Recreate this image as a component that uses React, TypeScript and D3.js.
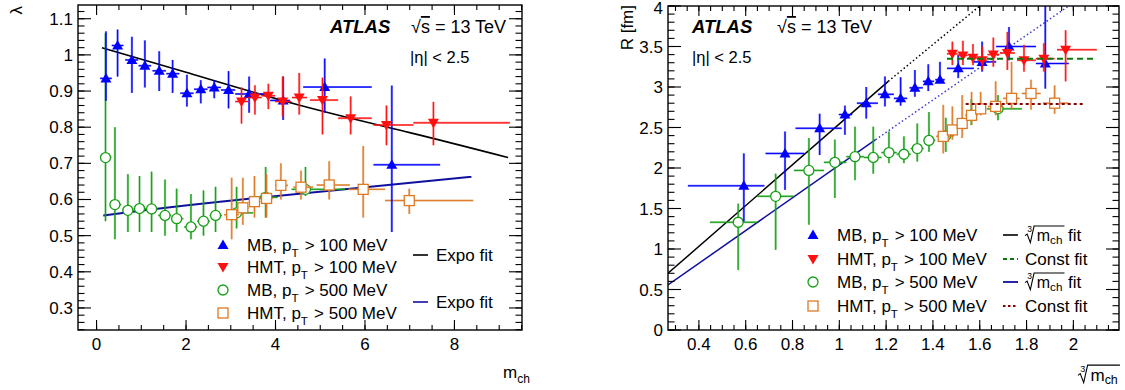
import React from 'react';
import * as d3 from 'd3';

// [x, y, xLow, xHigh, yLow, yHigh]
type Pt = [number, number, number, number, number, number];

// ---- left panel: lambda vs m_ch ----
const mb100Left: Pt[] = [
  [0.21, 0.935, 0.08, 0.34, 0.873, 1.065],
  [0.47, 1.026, 0.34, 0.6, 0.94, 1.07],
  [0.79, 0.986, 0.64, 0.93, 0.895, 1.05],
  [1.08, 0.97, 0.94, 1.22, 0.91, 1.04],
  [1.4, 0.956, 1.25, 1.55, 0.9, 1.01],
  [1.7, 0.948, 1.56, 1.85, 0.895, 0.986],
  [2.02, 0.894, 1.87, 2.17, 0.857, 0.945],
  [2.33, 0.905, 2.18, 2.48, 0.866, 0.93],
  [2.63, 0.91, 2.48, 2.78, 0.88, 0.93],
  [2.95, 0.903, 2.78, 3.1, 0.852, 0.955],
  [3.41, 0.892, 3.1, 3.88, 0.84, 0.94],
  [4.17, 0.874, 3.88, 4.32, 0.82, 0.94],
  [5.1, 0.911, 4.62, 6.15, 0.84, 0.99],
  [6.6, 0.696, 6.19, 7.68, 0.51, 0.915],
];
const hmt100Left: Pt[] = [
  [3.24, 0.871, 3.1, 3.39, 0.81, 0.91],
  [3.54, 0.882, 3.39, 3.69, 0.835, 0.916],
  [3.84, 0.887, 3.69, 3.99, 0.85, 0.92],
  [4.16, 0.871, 3.99, 4.35, 0.83, 0.94],
  [4.53, 0.882, 4.37, 4.7, 0.835, 0.95],
  [5.05, 0.875, 4.77, 5.4, 0.78, 0.937],
  [5.68, 0.825, 5.4, 6.15, 0.78, 0.885],
  [6.48, 0.806, 6.19, 7.08, 0.75, 0.86],
  [7.53, 0.812, 7.08, 9.24, 0.75, 0.87],
];
const mb500Left: Pt[] = [
  [0.2, 0.716, 0.08, 0.33, 0.54, 1.06],
  [0.41, 0.586, 0.3, 0.55, 0.49, 0.8],
  [0.7, 0.57, 0.57, 0.83, 0.51, 0.67],
  [0.96, 0.575, 0.83, 1.1, 0.51, 0.665],
  [1.23, 0.574, 1.1, 1.37, 0.51, 0.677],
  [1.53, 0.556, 1.38, 1.67, 0.5, 0.655],
  [1.79, 0.547, 1.67, 1.94, 0.51, 0.63],
  [2.11, 0.524, 1.96, 2.25, 0.49, 0.615],
  [2.39, 0.54, 2.25, 2.53, 0.5, 0.625],
  [2.66, 0.556, 2.53, 2.8, 0.51, 0.635],
  [3.13, 0.563, 2.9, 3.5, 0.52, 0.635],
  [3.78, 0.606, 3.5, 4.05, 0.55, 0.69],
  [4.67, 0.628, 4.36, 5.55, 0.61, 0.69],
];
const hmt500Left: Pt[] = [
  [3.02, 0.558, 2.85, 3.18, 0.49, 0.66],
  [3.27, 0.577, 3.18, 3.4, 0.53, 0.66],
  [3.53, 0.594, 3.4, 3.66, 0.55, 0.665],
  [3.8, 0.603, 3.66, 3.94, 0.55, 0.67],
  [4.12, 0.639, 3.99, 4.28, 0.6, 0.7],
  [4.57, 0.634, 4.4, 4.84, 0.6, 0.68],
  [5.2, 0.64, 4.92, 5.66, 0.6, 0.706],
  [5.96, 0.628, 5.63, 6.45, 0.55, 0.748],
  [6.99, 0.597, 6.45, 8.42, 0.56, 0.63],
];
const expoFit100: [number, number][] = [[0.12, 1.02], [2, 0.952], [4.5, 0.862], [7, 0.785], [9.2, 0.716]];
const expoFit500: [number, number][] = [[0.15, 0.556], [2.76, 0.594], [8.38, 0.663]];

// ---- right panel: R vs cbrt(m_ch) ----
const mb100Right: Pt[] = [
  [0.592, 1.78, 0.353, 0.68, 1.34, 2.18],
  [0.768, 2.18, 0.685, 0.85, 1.73, 2.45],
  [0.916, 2.49, 0.813, 1.01, 2.16, 2.67],
  [1.024, 2.66, 0.998, 1.055, 2.41, 2.77],
  [1.115, 2.8, 1.075, 1.165, 2.61, 3.0],
  [1.195, 2.91, 1.165, 1.233, 2.76, 3.13],
  [1.262, 2.86, 1.233, 1.29, 2.77, 3.12],
  [1.323, 2.99, 1.3, 1.357, 2.88, 3.21],
  [1.38, 3.07, 1.357, 1.405, 2.95, 3.28],
  [1.43, 3.09, 1.41, 1.45, 3.05, 3.31],
  [1.508, 3.23, 1.46, 1.575, 3.11, 3.4],
  [1.61, 3.31, 1.57, 1.67, 3.19, 3.56],
  [1.725, 3.5, 1.67, 1.84, 3.33, 3.74],
  [1.88, 3.29, 1.84, 1.98, 2.98, 4.1],
];
const hmt100Right: Pt[] = [
  [1.483, 3.41, 1.46, 1.505, 3.27, 3.56],
  [1.528, 3.39, 1.508, 1.548, 3.27, 3.57],
  [1.571, 3.36, 1.551, 1.591, 3.27, 3.53],
  [1.611, 3.33, 1.591, 1.631, 3.21, 3.5],
  [1.658, 3.4, 1.633, 1.683, 3.25, 3.61],
  [1.718, 3.42, 1.686, 1.75, 3.21, 3.68],
  [1.789, 3.33, 1.76, 1.84, 3.19, 3.52],
  [1.874, 3.35, 1.84, 1.92, 3.19, 3.54],
  [1.967, 3.46, 1.93, 2.1, 3.07, 3.7],
];
const mb500Right: Pt[] = [
  [0.568, 1.33, 0.447, 0.649, 0.74, 1.56],
  [0.728, 1.65, 0.649, 0.806, 0.99, 1.93],
  [0.87, 1.97, 0.806, 0.934, 1.3, 2.37],
  [0.981, 2.07, 0.934, 1.03, 1.63, 2.35],
  [1.067, 2.14, 1.03, 1.105, 1.85, 2.51],
  [1.145, 2.13, 1.105, 1.18, 1.93, 2.51],
  [1.212, 2.19, 1.18, 1.245, 2.06, 2.45],
  [1.276, 2.17, 1.245, 1.305, 2.06, 2.39],
  [1.333, 2.24, 1.305, 1.36, 2.08, 2.55],
  [1.383, 2.34, 1.36, 1.41, 2.2, 2.69],
  [1.455, 2.4, 1.42, 1.49, 2.2, 2.62],
  [1.564, 2.65, 1.54, 1.59, 2.53, 2.85],
  [1.678, 2.73, 1.63, 1.78, 2.59, 2.9],
];
const hmt500Right: Pt[] = [
  [1.444, 2.39, 1.414, 1.476, 2.18, 2.78],
  [1.483, 2.47, 1.463, 1.503, 2.35, 2.76],
  [1.525, 2.55, 1.505, 1.545, 2.37, 2.9],
  [1.565, 2.65, 1.545, 1.585, 2.53, 2.94],
  [1.604, 2.73, 1.584, 1.624, 2.65, 2.94],
  [1.668, 2.76, 1.635, 1.7, 2.65, 3.07],
  [1.736, 2.86, 1.7, 1.77, 2.72, 3.31],
  [1.819, 2.92, 1.78, 1.86, 2.72, 3.09],
  [1.92, 2.8, 1.87, 1.98, 2.67, 3.02],
];
const cbrtFit100: [number, number][] = [[0.268, 0.7], [1.209, 3.07]];
const cbrtFit100Ext: [number, number][] = [[1.209, 3.07], [1.6, 4.0]];
const cbrtFit500: [number, number][] = [[0.268, 0.556], [1.155, 2.35]];
const cbrtFit500Ext: [number, number][] = [[1.155, 2.35], [1.98, 4.0]];
const constFit100: [number, number][] = [[1.46, 3.35], [2.1, 3.35]];
const constFit500: [number, number][] = [[1.54, 2.79], [2.04, 2.79]];

const legendCuts = ['100', '100', '500', '500'];
const legendNames = ['MB', 'HMT', 'MB', 'HMT'];

const FONT = '"Liberation Sans", Arial, Helvetica, sans-serif';
const BLUE = '#0000ff';
const RED = '#ff1010';
const GREEN = '#17a017';
const ORANGE = '#dd7a26';
const NAVY = '#10109e';

const xL = d3.scaleLinear().domain([-0.415, 9.51]).range([78, 522]);
const yL = d3.scaleLinear().domain([0.239, 1.138]).range([330, 5]);
const xR = d3.scaleLinear().domain([0.268, 2.195]).range([668, 1119]);
const yR = d3.scaleLinear().domain([0, 4]).range([330, 6]);

function steps(from: number, to: number, step: number) {
  const a = Math.ceil(from / step - 1e-9);
  const b = Math.floor(to / step + 1e-9);
  return d3.range(a, b + 1).map(i => +(i * step).toFixed(6));
}

function Frame({ x, y, xMaj, xMin, yMaj, yMin, yTick }: any) {
  const [x0, x1] = x.range();
  const [y0, y1] = y.range();
  const xt = 10, yt = yTick;
  return (
    <g stroke="#000" strokeWidth={1.1}>
      {xMin.map((v: number) => (
        <g key={'xm' + v}>
          <line x1={x(v)} x2={x(v)} y1={y0} y2={y0 - xt / 2} />
          <line x1={x(v)} x2={x(v)} y1={y1} y2={y1 + xt / 2} />
        </g>
      ))}
      {xMaj.map((v: number) => (
        <g key={'xM' + v}>
          <line x1={x(v)} x2={x(v)} y1={y0} y2={y0 - xt} />
          <line x1={x(v)} x2={x(v)} y1={y1} y2={y1 + xt} />
          <text x={x(v)} y={y0 + 20} textAnchor="middle" stroke="none" fontSize={17}>{v}</text>
        </g>
      ))}
      {yMin.map((v: number) => (
        <g key={'ym' + v}>
          <line x1={x0} x2={x0 + yt / 2} y1={y(v)} y2={y(v)} />
          <line x1={x1} x2={x1 - yt / 2} y1={y(v)} y2={y(v)} />
        </g>
      ))}
      {yMaj.map((v: number) => (
        <g key={'yM' + v}>
          <line x1={x0} x2={x0 + yt} y1={y(v)} y2={y(v)} />
          <line x1={x1} x2={x1 - yt} y1={y(v)} y2={y(v)} />
          <text x={x0 - 5} y={Math.max(y(v) + 6, 13.5)} textAnchor="end" stroke="none" fontSize={17}>{v}</text>
        </g>
      ))}
      <rect x={x0} y={y1} width={x1 - x0} height={y0 - y1} fill="none" strokeWidth={1.4} />
    </g>
  );
}

function Marker({ kind, color, cx, cy }: any) {
  if (kind === 'up') return <path d={`M${cx},${cy - 5.5}L${cx + 5.5},${cy + 4}L${cx - 5.5},${cy + 4}Z`} fill={color} />;
  if (kind === 'down') return <path d={`M${cx},${cy + 5.5}L${cx + 5.5},${cy - 4}L${cx - 5.5},${cy - 4}Z`} fill={color} />;
  if (kind === 'circle') return <circle cx={cx} cy={cy} r={5} fill="#fff" stroke={color} strokeWidth={1.3} />;
  return <rect x={cx - 5} y={cy - 5} width={10} height={10} fill="#fff" stroke={color} strokeWidth={1.3} />;
}

function Series({ data, x, y, color, kind }: any) {
  return (
    <g>
      {data.map((d: Pt, i: number) => (
        <g key={i} stroke={color}>
          <line x1={x(d[2])} x2={x(d[3])} y1={y(d[1])} y2={y(d[1])} strokeWidth={2} strokeOpacity={0.55} />
          <line x1={x(d[0])} x2={x(d[0])} y1={y(d[4])} y2={y(d[5])} strokeWidth={2.2} strokeOpacity={0.55} />
          <line x1={x(d[0])} x2={x(d[0])} y1={y(d[4])} y2={y(d[5])} strokeWidth={1} />
          <line x1={x(d[2])} x2={x(d[3])} y1={y(d[1])} y2={y(d[1])} strokeWidth={1} />
        </g>
      ))}
      {data.map((d: Pt, i: number) => (
        <Marker key={'m' + i} kind={kind} color={color} cx={x(d[0])} cy={y(d[1])} />
      ))}
    </g>
  );
}

function FitLine({ pts, x, y, color, dash, width = 1.6, curve = false }: any) {
  const gen = d3.line<[number, number]>().x(d => x(d[0])).y(d => y(d[1]));
  if (curve) gen.curve(d3.curveNatural);
  return <path d={gen(pts) || ''} fill="none" stroke={color} strokeWidth={width} strokeDasharray={dash} />;
}

// cube-root radical drawn as ROOT does: index 3, radical, overline, m_ch
function Cbrt({ x, y, s = 16 }: any) {
  const k = s / 15;
  const w = 37 * k;
  return (
    <g>
      <path
        d={`M${x},${y - 5 * k}L${x + 2 * k},${y - 6.5 * k}L${x + 5 * k},${y + 1.5 * k}L${x + 8.5 * k},${y - 14 * k}L${x + w},${y - 14 * k}`}
        fill="none" stroke="#000" strokeWidth={1.1}
      />
      <text x={x + 2 * k} y={y - 8 * k} fontSize={8 * k}>3</text>
      <text x={x + 11 * k} y={y} fontSize={s}>m<tspan fontSize={11 * k} dy={3 * k}>ch</tspan></text>
    </g>
  );
}

function LegendText({ x, y, name, cut }: any) {
  return (
    <text x={x} y={y} fontSize={17}>
      {name}, p<tspan fontSize={11.5} dy={6}>T</tspan><tspan dy={-6} dx={1.5}> &gt; {cut} MeV</tspan>
    </text>
  );
}

const kinds = ['up', 'down', 'circle', 'square'];
const colors = [BLUE, RED, GREEN, ORANGE];

export default function App() {
  const leftRows = [251, 273, 296, 319];
  const rightRows = [241, 265, 288, 312];
  return (
    <div style={{ position: 'absolute', left: 0, top: 0 }}>
      <svg width={1125} height={390} style={{ display: 'block', fontFamily: FONT }}>
        <rect width={1125} height={390} fill="#fff" />
        <defs>
          <clipPath id="clipL"><rect x={78} y={5} width={444} height={325} /></clipPath>
          <clipPath id="clipR"><rect x={668} y={6} width={451} height={324} /></clipPath>
        </defs>

        {/* left panel */}
        <g clipPath="url(#clipL)">
          <FitLine pts={expoFit100} x={xL} y={yL} color="#000" curve />
          <FitLine pts={expoFit500} x={xL} y={yL} color={NAVY} curve width={2} />
          <Series data={mb500Left} x={xL} y={yL} color={GREEN} kind="circle" />
          <Series data={hmt500Left} x={xL} y={yL} color={ORANGE} kind="square" />
          <Series data={mb100Left} x={xL} y={yL} color={BLUE} kind="up" />
          <Series data={hmt100Left} x={xL} y={yL} color={RED} kind="down" />
        </g>
        <Frame x={xL} y={yL} xMaj={steps(0, 9.5, 2)} xMin={steps(-0.4, 9.5, 0.5)}
          yMaj={steps(0.3, 1.138, 0.1)} yMin={steps(0.24, 1.138, 0.02)} yTick={13} />
        <text transform="translate(22,6) rotate(-90)" textAnchor="end" fontSize={17}>λ</text>
        <text x={503} y={378} fontSize={17}>m<tspan fontSize={12} dy={5}>ch</tspan></text>
        <text x={330} y={33} fontSize={18.5} fontWeight="bold" fontStyle="italic">ATLAS</text>
        <text x={411} y={33} fontSize={18}>√<tspan textDecoration="overline">s</tspan> = 13 TeV</text>
        <text x={410} y={63} fontSize={16.5}>|η| &lt; 2.5</text>
        {leftRows.map((ry, i) => (
          <g key={'ll' + i}>
            <Marker kind={kinds[i]} color={colors[i]} cx={223} cy={ry - 6} />
            <LegendText x={247} y={ry} name={legendNames[i]} cut={legendCuts[i]} />
          </g>
        ))}
        <line x1={413} x2={428} y1={255} y2={255} stroke="#000" strokeWidth={1.6} />
        <text x={436} y={261} fontSize={17}>Expo fit</text>
        <line x1={413} x2={428} y1={302} y2={302} stroke={NAVY} strokeWidth={1.6} />
        <text x={436} y={308} fontSize={17}>Expo fit</text>

        {/* right panel */}
        <g clipPath="url(#clipR)">
          <FitLine pts={cbrtFit100} x={xR} y={yR} color="#000" width={1.5} />
          <FitLine pts={cbrtFit100Ext} x={xR} y={yR} color="#000" width={1.5} dash="1.5,2.5" />
          <FitLine pts={cbrtFit500} x={xR} y={yR} color={NAVY} width={1.5} />
          <FitLine pts={cbrtFit500Ext} x={xR} y={yR} color="#3a3ad0" width={1.5} dash="1.5,2.5" />
          <Series data={mb500Right} x={xR} y={yR} color={GREEN} kind="circle" />
          <Series data={hmt500Right} x={xR} y={yR} color={ORANGE} kind="square" />
          <Series data={mb100Right} x={xR} y={yR} color={BLUE} kind="up" />
          <Series data={hmt100Right} x={xR} y={yR} color={RED} kind="down" />
          <FitLine pts={constFit100} x={xR} y={yR} color="#0a7a0a" width={2} dash="6,4" />
          <FitLine pts={constFit500} x={xR} y={yR} color="#8b0000" width={2} dash="3,3" />
        </g>
        <Frame x={xR} y={yR} xMaj={steps(0.4, 2.0, 0.2)} xMin={steps(0.27, 2.19, 0.05)}
          yMaj={steps(0, 4, 0.5)} yMin={steps(0, 4, 0.1)} yTick={13} />
        <text transform="translate(633,5) rotate(-90)" textAnchor="end" fontSize={17}>R [fm]</text>
        <Cbrt x={1078} y={381} s={17} />
        <text x={692} y={33} fontSize={18.5} fontWeight="bold" fontStyle="italic">ATLAS</text>
        <text x={777} y={33} fontSize={18}>√<tspan textDecoration="overline">s</tspan> = 13 TeV</text>
        <text x={692} y={63} fontSize={16.5}>|η| &lt; 2.5</text>
        {rightRows.map((ry, i) => (
          <g key={'rl' + i}>
            <Marker kind={kinds[i]} color={colors[i]} cx={813} cy={ry - 6} />
            <LegendText x={837} y={ry} name={legendNames[i]} cut={legendCuts[i]} />
          </g>
        ))}
        <line x1={1003} x2={1018} y1={235} y2={235} stroke="#000" strokeWidth={1.6} />
        <Cbrt x={1025} y={241} />
        <text x={1068} y={241} fontSize={17}>fit</text>
        <line x1={1003} x2={1018} y1={259} y2={259} stroke="#0a7a0a" strokeWidth={1.8} strokeDasharray="4,3" />
        <text x={1025} y={265} fontSize={17}>Const fit</text>
        <line x1={1003} x2={1018} y1={282} y2={282} stroke={NAVY} strokeWidth={1.8} />
        <Cbrt x={1025} y={288} />
        <text x={1068} y={288} fontSize={17}>fit</text>
        <line x1={1003} x2={1018} y1={306} y2={306} stroke="#8b0000" strokeWidth={1.8} strokeDasharray="2.5,2.5" />
        <text x={1025} y={312} fontSize={17}>Const fit</text>
      </svg>
    </div>
  );
}
